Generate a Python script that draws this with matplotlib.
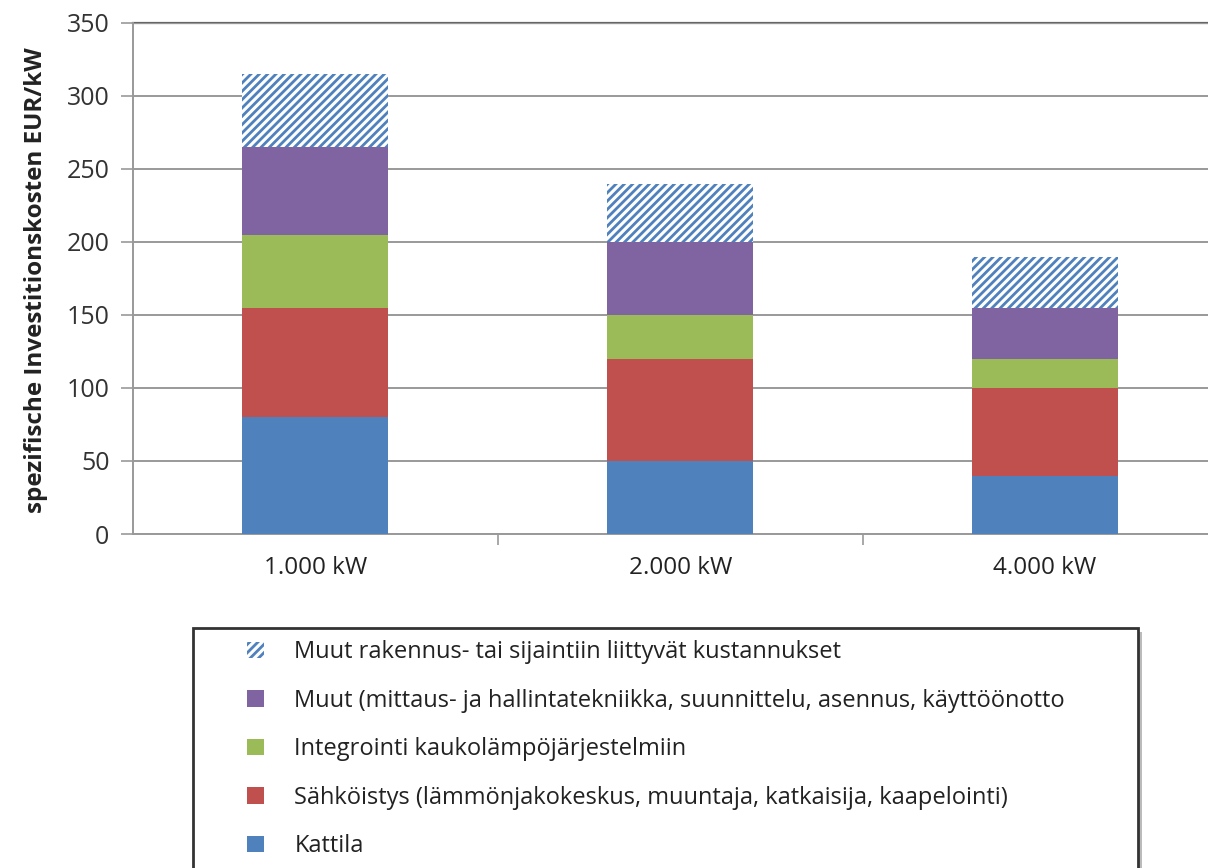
import matplotlib
matplotlib.use("Agg")
from matplotlib import pyplot as plt
from matplotlib.patches import Patch, Rectangle
import numpy as np

plt.rcParams['font.family'] = ['Open Sans', 'DejaVu Sans']
plt.rcParams['hatch.linewidth'] = 2.0

kategoriat = ['1.000 kW', '2.000 kW', '4.000 kW']
kattila = [80, 50, 40]
sahkoistys = [75, 70, 60]
integrointi = [50, 30, 20]
muut = [60, 50, 35]
muut_rakennus = [50, 40, 35]

nimet = [
    'Kattila',
    'Sähköistys (lämmönjakokeskus, muuntaja, katkaisija, kaapelointi)',
    'Integrointi kaukolämpöjärjestelmiin',
    'Muut (mittaus- ja hallintatekniikka, suunnittelu, asennus, käyttöönotto',
    'Muut rakennus- tai sijaintiin liittyvät kustannukset',
]
varit = ['#4F81BD', '#C0504D', '#9BBB59', '#8064A2']
sininen = '#4F81BD'

fig = plt.figure(figsize=(12.08, 8.68), dpi=100)
ax = fig.add_axes([133 / 1208, 1 - 534 / 868, 1 - 133 / 1208, (534 - 23) / 868])

x = np.arange(len(kategoriat))
leveys = 0.4
pohja = np.zeros(len(kategoriat))
for arvot, vari in zip([kattila, sahkoistys, integrointi, muut], varit):
    ax.bar(x, arvot, leveys, bottom=pohja, color=vari, zorder=3)
    pohja += np.array(arvot)
ax.bar(x, muut_rakennus, leveys, bottom=pohja, color='white', edgecolor=sininen,
       hatch='////', linewidth=0, zorder=3)

ax.set_ylim(0, 350)
ax.set_xlim(-0.5, (1208 - 315) / 365)
ax.set_yticks(range(0, 351, 50))
ax.set_xticks(x)
ax.set_xticklabels(kategoriat)
ax.set_xticks([0.5, 1.5], minor=True)
ax.tick_params(axis='x', which='major', length=0, pad=16, labelsize=17.5, colors='#222222')
ax.tick_params(axis='x', which='minor', length=8, width=1.2, color='#999999')
ax.tick_params(axis='y', length=9, width=1.2, color='#999999', labelsize=18,
               labelcolor='#333333', pad=8)
ax.yaxis.grid(True, color='#999999', linewidth=1.4, zorder=0)
for s in ['top', 'right']:
    ax.spines[s].set_visible(False)
ax.spines['left'].set_color('#999999')
ax.spines['left'].set_linewidth(1.4)
ax.spines['bottom'].set_color('#999999')
ax.spines['bottom'].set_linewidth(1.4)
ax.axhline(350, color='#666666', linewidth=1.6, zorder=1, clip_on=False)

fig.text(36 / 1208, 1 - 280 / 868, 'spezifische Investitionskosten EUR/kW',
         rotation=90, ha='center', va='center', fontsize=17.5, fontweight='bold',
         color='#222222')

# legend box with shadow
laatikko_x, laatikko_y = 193 / 1208, 1 - 628 / 868
laatikko_w, laatikko_h = (1138 - 193) / 1208, 0.4
fig.patches.append(Rectangle((laatikko_x + 4 / 1208, laatikko_y - laatikko_h - 4 / 868),
                             laatikko_w, laatikko_h, transform=fig.transFigure,
                             facecolor='#bbbbbb', edgecolor='none', zorder=1))
fig.patches.append(Rectangle((laatikko_x, laatikko_y - laatikko_h), laatikko_w, laatikko_h,
                             transform=fig.transFigure, facecolor='white',
                             edgecolor='#333333', linewidth=2, zorder=2))

kahvat = [Patch(facecolor='white', edgecolor=sininen, hatch='////', linewidth=0)]
for vari in varit[::-1]:
    kahvat.append(Patch(facecolor=vari, edgecolor='none'))
leg = fig.legend(kahvat, nimet[::-1], loc='upper left',
                 bbox_to_anchor=(226 / 1208, 1 - 619 / 868), frameon=False,
                 fontsize=17, handlelength=0.7, handleheight=0.7, handletextpad=1.3,
                 labelspacing=1.04, labelcolor='#222222')
leg.set_zorder(5)

fig.savefig('out.png', dpi=100)
